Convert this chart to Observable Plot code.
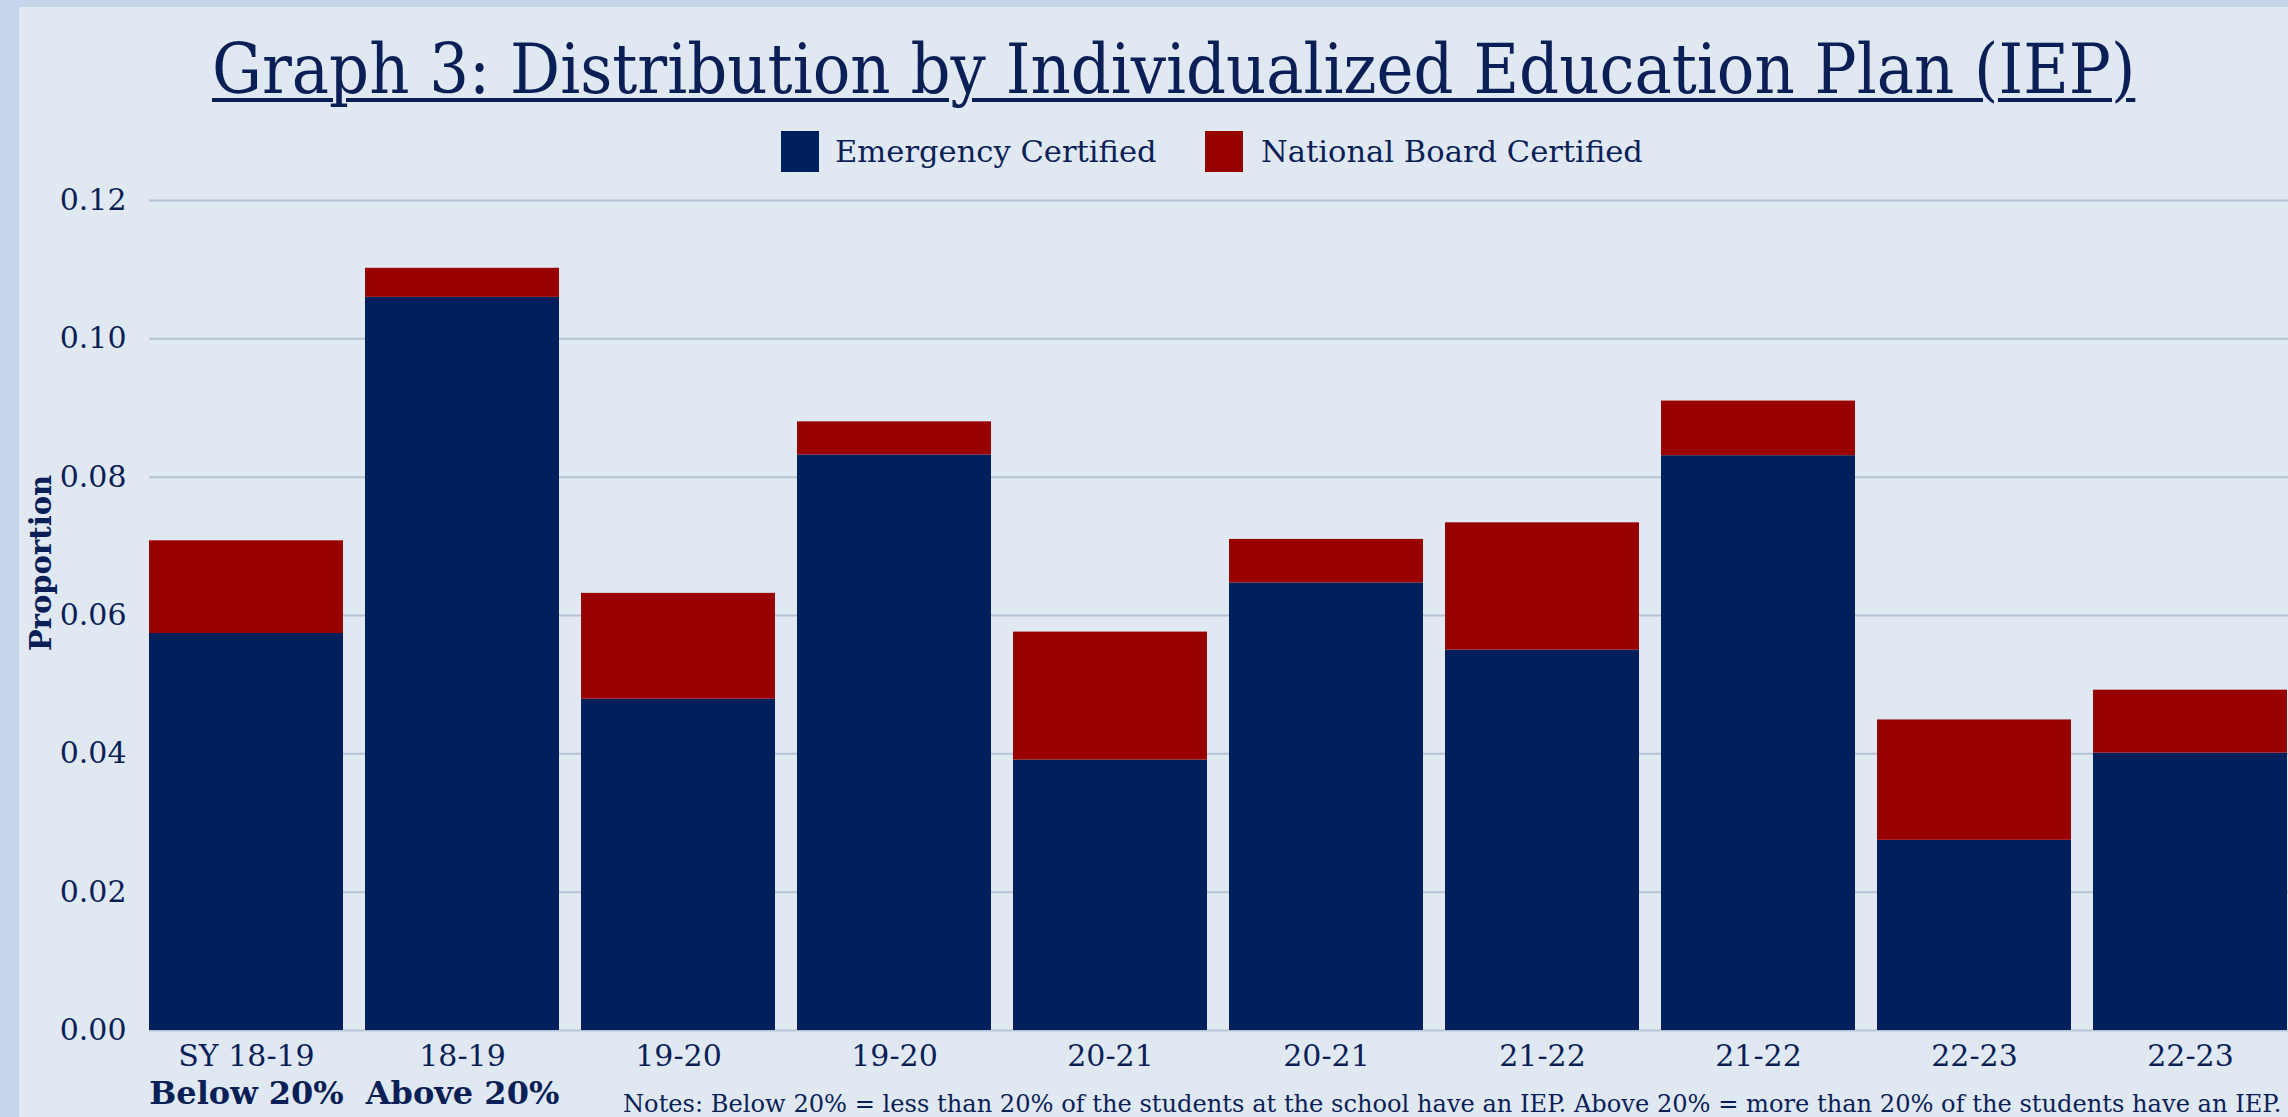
<!DOCTYPE html>
<html>
<head>
<meta charset="utf-8">
<script src="https://cdn.jsdelivr.net/npm/d3@7"></script>
<script src="https://cdn.jsdelivr.net/npm/@observablehq/plot@0.6"></script>
<style>
  html, body { margin: 0; padding: 0; }
  body { width: 2288px; height: 1117px; background: #c5d6ea; position: relative; overflow: hidden;
         font-family: "DejaVu Serif", serif; color: #0b1f57; }
  #panel { position: absolute; left: 19px; top: 7px; width: 2269px; height: 1110px; background: #e0e8f2; }
  .abs { position: absolute; white-space: nowrap; }
  #title { top: 35px; left: 212px; font-size: 69px; line-height: 69px; text-decoration: underline;
           text-decoration-thickness: 4px; text-underline-offset: 5px; transform-origin: 0 0; }
  .sw { width: 38px; height: 41px; top: 131px; }
  .lt { font-size: 30px; line-height: 30px; top: 137px; transform-origin: 0 0; }
  #ylab { left: 41px; top: 563px; font-weight: bold; font-size: 29px; transform: translate(-50%,-50%) rotate(-90deg); }
  #notes { left: 623px; top: 1092px; font-size: 24px; line-height: 24px; transform-origin: 0 0; }
  #chart { position: absolute; left: 19px; top: 120px; }
</style>
</head>
<body>
<div id="panel"></div>
<div id="title" class="abs">Graph 3: Distribution by Individualized Education Plan (IEP)</div>
<div id="sw1" class="abs sw"></div>
<div id="lt1" class="abs lt"></div>
<div id="sw2" class="abs sw"></div>
<div id="lt2" class="abs lt"></div>
<div id="ylab" class="abs">Proportion</div>
<div id="chart"></div>
<div id="notes" class="abs">Notes: Below 20% = less than 20% of the students at the school have an IEP. Above 20% = more than 20% of the students have an IEP.</div>
<script>
// ---- data ----
const categories = ["SY 18-19", "18-19", "19-20", "19-20", "20-21", "20-21", "21-22", "21-22", "22-23", "22-23"];
const groupLabels = ["Below 20%", "Above 20%", "", "", "", "", "", "", "", ""];
const emergency = [0.0574, 0.1060, 0.0479, 0.0832, 0.0391, 0.0647, 0.0550, 0.0831, 0.0275, 0.0401];
const national  = [0.0134, 0.0042, 0.0153, 0.0048, 0.0185, 0.0063, 0.0184, 0.0079, 0.0174, 0.0091];
const seriesNames = ["Emergency Certified", "National Board Certified"];
const seriesColors = ["#001f5b", "#990000"];
const yTicks = [0, 0.02, 0.04, 0.06, 0.08, 0.10, 0.12];

// ---- table ----
const idx = d3.range(categories.length);
const rows = [];
idx.forEach(i => {
  rows.push({i, series: seriesNames[0], value: emergency[i]});
  rows.push({i, series: seriesNames[1], value: national[i]});
});
const groups = idx.map(i => ({i, label: groupLabels[i]})).filter(d => d.label);

const textColor = "#0b1f57";
const chart = Plot.plot({
  width: 2269,
  height: 997,
  marginLeft: 130,
  marginRight: 0,
  marginTop: 80,
  marginBottom: 87,
  style: {background: "transparent", fontFamily: "'DejaVu Serif', serif", fontSize: "30px", color: textColor, overflow: "visible"},
  x: {type: "band", domain: idx, paddingInner: 0.1, paddingOuter: 0, label: null},
  y: {domain: [0, 0.12], label: null},
  color: {domain: seriesNames, range: seriesColors},
  marks: [
    Plot.ruleY(yTicks, {stroke: "#b6c3d5", strokeWidth: 2}),
    Plot.barY(rows, {x: "i", y: "value", fill: "series"}),
    Plot.axisY({ticks: yTicks, tickFormat: d3.format(".2f"), tickSize: 0, tickPadding: 23, fontSize: 30, fill: textColor, label: null}),
    Plot.axisX({tickFormat: i => categories[i], tickSize: 0, tickPadding: 14, fontSize: 30, fill: textColor, label: null}),
    Plot.text(groups, {x: "i", text: "label", frameAnchor: "bottom", lineAnchor: "middle", dy: 63, fontWeight: "bold", fontSize: 32, fill: textColor})
  ]
});
document.getElementById("chart").appendChild(chart);

// ---- legend ----
const sw1 = document.getElementById("sw1"), sw2 = document.getElementById("sw2");
sw1.style.left = "781px"; sw1.style.background = seriesColors[0];
sw2.style.left = "1205px"; sw2.style.background = seriesColors[1];
const lt1 = document.getElementById("lt1"), lt2 = document.getElementById("lt2");
lt1.textContent = seriesNames[0]; lt1.style.left = "835px";
lt2.textContent = seriesNames[1]; lt2.style.left = "1261px";

// ---- horizontal fit of text widths ----
function fit(id, w) {
  const el = document.getElementById(id);
  const r = el.scrollWidth;
  if (r > 0) el.style.transform = `scaleX(${w / r})`;
}
fit("title", 1923);
fit("lt1", 322);
fit("lt2", 382);
fit("notes", 1658);
</script>
</body>
</html>
